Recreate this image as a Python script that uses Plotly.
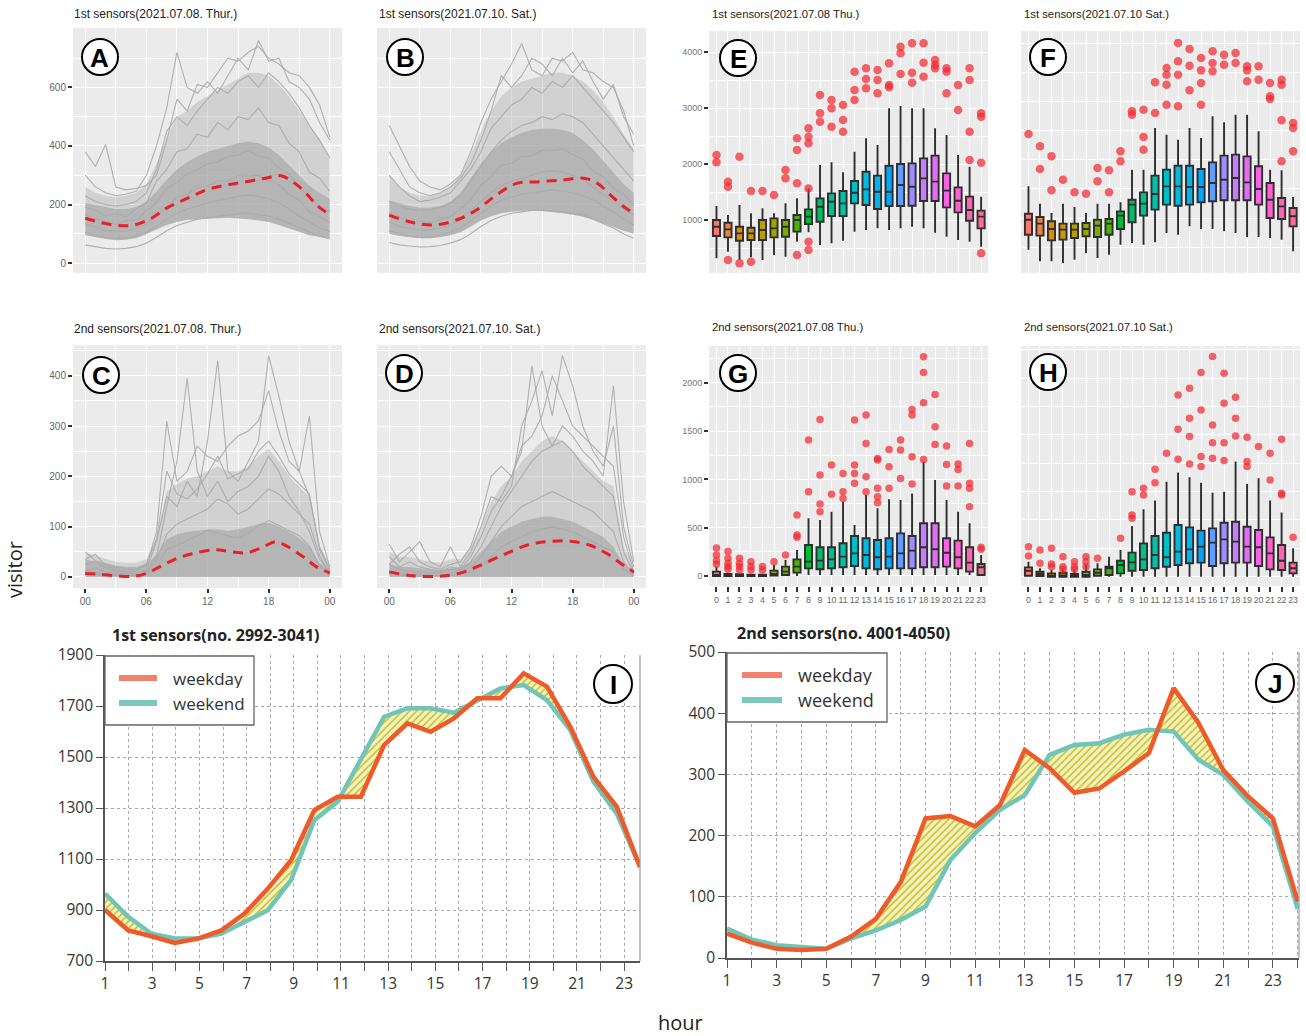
import math
import plotly.graph_objects as go

FIG_W, FIG_H = 1306, 1036

# ---------------- DATA ----------------
HOURS = list(range(25))          # spaghetti panels, hour of day
BOX_HOURS = list(range(24))      # box panels

# Panel A : 1st sensors Thu
A_band_low = [95, 88, 82, 78, 80, 85, 98, 115, 130, 140, 148, 150, 152, 155, 155, 152, 150, 145, 140, 130, 118, 105, 95, 90, 85]
A_band_high = [205, 198, 190, 185, 185, 192, 210, 245, 285, 320, 345, 365, 380, 390, 400, 410, 415, 410, 395, 370, 335, 300, 265, 240, 220]
A_cloud_high = [260, 240, 230, 225, 230, 240, 270, 340, 430, 500, 520, 550, 570, 590, 610, 630, 650, 650, 640, 610, 570, 520, 470, 420, 360]
A_lines = [
    [380, 330, 405, 260, 250, 255, 265, 300, 420, 560, 520, 610, 600, 650, 700, 690, 720, 740, 700, 680, 650, 640, 600, 540, 430],
    [300, 260, 240, 230, 235, 245, 300, 400, 530, 720, 600, 580, 620, 580, 640, 700, 660, 760, 690, 700, 620, 600, 560, 480, 420],
    [230, 210, 200, 195, 200, 210, 240, 320, 450, 500, 470, 520, 560, 600, 580, 620, 640, 600, 650, 620, 580, 530, 470, 420, 360],
    [190, 182, 160, 170, 158, 185, 205, 280, 320, 380, 390, 440, 430, 480, 455, 500, 490, 530, 480, 470, 410, 380, 310, 290, 245],
    [165, 150, 142, 132, 145, 148, 178, 205, 255, 275, 305, 318, 340, 345, 365, 368, 385, 365, 360, 325, 305, 255, 230, 190, 178],
    [135, 122, 110, 110, 108, 120, 132, 168, 190, 225, 236, 258, 262, 280, 282, 298, 296, 300, 280, 268, 236, 214, 176, 158, 138],
    [105, 95, 88, 84, 86, 92, 105, 125, 150, 170, 185, 195, 205, 212, 220, 228, 232, 228, 220, 205, 185, 160, 140, 120, 108],
    [62, 55, 50, 48, 50, 56, 68, 88, 110, 128, 140, 150, 155, 160, 165, 168, 170, 166, 160, 150, 135, 120, 105, 92, 82],
]
A_trend_h = [0, 1.6, 3.2, 4.8, 6.5, 8.1, 10, 11.9, 13.9, 15.8, 17.7, 19.2, 21, 22.9, 24]
A_trend = [153, 138, 128, 130, 153, 190, 221, 250, 267, 278, 290, 298, 261, 193, 165]

# Panel B : 1st sensors Sat
B_band_low = [100, 92, 88, 85, 85, 88, 95, 105, 125, 145, 160, 170, 175, 178, 180, 178, 175, 170, 165, 158, 148, 135, 122, 110, 100]
B_band_high = [215, 205, 195, 190, 190, 195, 210, 240, 290, 340, 380, 410, 430, 445, 455, 460, 460, 455, 445, 420, 390, 350, 310, 270, 240]
B_cloud_high = [300, 260, 240, 230, 230, 240, 260, 300, 370, 450, 520, 570, 600, 620, 630, 640, 650, 650, 640, 620, 590, 550, 500, 440, 390]
B_lines = [
    [470, 400, 330, 280, 260, 250, 270, 300, 380, 480, 560, 620, 680, 750, 660, 640, 700, 690, 720, 660, 650, 620, 600, 520, 400],
    [380, 320, 260, 240, 230, 240, 260, 290, 340, 420, 520, 640, 600, 640, 700, 680, 640, 700, 650, 690, 620, 560, 610, 500, 440],
    [300, 260, 230, 210, 215, 225, 240, 280, 320, 380, 460, 500, 540, 560, 600, 580, 620, 600, 640, 600, 560, 520, 480, 430, 380],
    [210, 195, 185, 180, 182, 190, 205, 230, 280, 330, 380, 420, 450, 470, 480, 500, 490, 510, 500, 480, 440, 400, 360, 320, 280],
    [170, 158, 142, 143, 138, 150, 158, 188, 215, 265, 295, 335, 340, 365, 365, 385, 385, 390, 370, 355, 315, 295, 255, 235, 198],
    [140, 125, 118, 112, 115, 120, 130, 150, 180, 210, 240, 265, 280, 290, 300, 310, 315, 310, 300, 285, 260, 235, 210, 185, 165],
    [110, 100, 92, 88, 90, 95, 105, 120, 145, 170, 195, 215, 225, 235, 240, 245, 250, 245, 240, 230, 215, 195, 175, 150, 130],
    [70, 62, 58, 55, 56, 60, 68, 80, 100, 125, 145, 160, 170, 175, 180, 180, 178, 175, 170, 165, 150, 135, 120, 100, 85],
]
B_trend_h = [0, 2, 4.3, 6.6, 8.6, 10.5, 12.5, 14.8, 17.1, 19.1, 20.4, 21.7, 23, 24]
B_trend = [164, 141, 130, 147, 182, 232, 272, 278, 284, 290, 273, 233, 193, 170]

# Panel C : 2nd sensors Thu
C_band_low = [0] * 25
C_band_high = [35, 30, 26, 22, 20, 20, 25, 45, 75, 85, 90, 92, 95, 95, 92, 95, 100, 105, 108, 100, 90, 78, 60, 28, 15]
C_cloud_high = [48, 42, 36, 30, 28, 28, 35, 80, 170, 185, 195, 200, 210, 220, 210, 210, 220, 240, 255, 230, 200, 180, 160, 60, 25]
C_lines = [
    [12, 18, 10, 8, 6, 5, 12, 40, 140, 230, 395, 210, 160, 190, 150, 170, 180, 200, 240, 210, 160, 130, 90, 35, 10],
    [25, 30, 18, 12, 8, 6, 15, 70, 160, 140, 190, 160, 270, 430, 210, 190, 230, 270, 440, 360, 270, 210, 160, 60, 15],
    [35, 45, 22, 15, 10, 12, 22, 90, 310, 190, 210, 260, 240, 230, 260, 280, 290, 310, 370, 290, 230, 210, 320, 90, 20],
    [50, 32, 26, 20, 16, 15, 26, 75, 210, 165, 155, 175, 205, 240, 195, 205, 215, 250, 270, 240, 205, 185, 165, 55, 12],
    [12, 9, 6, 5, 3, 3, 10, 32, 85, 105, 115, 125, 135, 155, 145, 125, 135, 155, 175, 165, 145, 125, 105, 42, 6],
    [6, 5, 3, 2, 2, 2, 5, 22, 55, 62, 72, 82, 92, 88, 82, 78, 88, 102, 112, 102, 92, 82, 62, 22, 3],
]
C_trend_h = [0, 1.5, 3.1, 4.7, 6, 7.3, 8.9, 10.5, 12.7, 14.3, 15.9, 17.5, 18.7, 19.8, 21.4, 22.7, 24]
C_trend = [7, 5, 2, 1, 7, 20, 36, 46, 54, 50, 48, 60, 70, 61, 40, 20, 8]

# Panel D : 2nd sensors Sat
D_band_low = [0] * 25
D_band_high = [25, 20, 20, 18, 15, 15, 18, 20, 30, 50, 70, 90, 100, 110, 115, 120, 120, 115, 110, 100, 90, 80, 60, 25, 15]
D_cloud_high = [50, 40, 40, 35, 30, 28, 35, 35, 60, 100, 150, 180, 200, 230, 250, 270, 280, 270, 250, 230, 210, 190, 180, 60, 25]
D_lines = [
    [25, 45, 60, 30, 20, 15, 25, 30, 60, 120, 200, 220, 200, 250, 420, 300, 260, 300, 280, 250, 230, 200, 380, 150, 30],
    [65, 30, 50, 70, 30, 20, 60, 20, 50, 100, 160, 150, 180, 300, 350, 410, 320, 440, 380, 300, 250, 220, 300, 100, 20],
    [40, 20, 30, 20, 15, 10, 20, 15, 40, 80, 130, 160, 200, 260, 280, 320, 400, 350, 300, 280, 260, 240, 220, 80, 10],
    [25, 15, 10, 10, 8, 8, 15, 12, 30, 60, 100, 140, 170, 200, 230, 250, 260, 270, 250, 220, 200, 180, 160, 50, 8],
    [10, 8, 5, 5, 3, 3, 8, 8, 20, 40, 70, 100, 120, 140, 150, 160, 170, 160, 150, 140, 130, 110, 90, 30, 5],
    [5, 3, 2, 2, 2, 2, 3, 5, 10, 20, 40, 60, 70, 80, 90, 95, 100, 95, 90, 80, 70, 60, 50, 15, 3],
]
D_trend_h = [0, 2, 4.7, 6.9, 8.9, 11.2, 13.5, 15.5, 17.8, 19.7, 21.4, 23, 24]
D_trend = [10, 3, 1, 7, 23, 44, 63, 70, 71, 63, 46, 23, 10]

# Panel E : box plot 1st sensors Thu
E_hi = [1250, 1089, 1268, 1119, 1208, 1119, 1298, 1387, 1565, 1982, 2030, 1851, 2220, 2458, 2339, 2994, 3036, 2994, 2994, 2637, 2518, 2161, 1952, 1417]
E_q3 = [1000, 952, 881, 863, 1000, 1030, 1000, 1089, 1190, 1387, 1476, 1518, 1696, 1863, 1792, 1970, 2000, 2012, 2101, 2149, 1833, 1583, 1417, 1167]
E_med = [881, 833, 762, 762, 821, 851, 881, 1000, 1060, 1238, 1327, 1298, 1488, 1548, 1506, 1506, 1625, 1595, 1744, 1685, 1524, 1345, 1179, 1060]
E_q1 = [714, 690, 631, 643, 643, 690, 702, 792, 929, 970, 1071, 1071, 1298, 1268, 1196, 1250, 1250, 1256, 1339, 1339, 1226, 1137, 988, 851]
E_lo = [316, 435, 286, 333, 286, 375, 345, 613, 780, 554, 583, 631, 792, 821, 851, 821, 851, 881, 851, 774, 702, 643, 613, 524]
E_out = [[2160, 2030], [1685, 1595, 286], [2131, 226], [1518, 256], [1518], [1446], [1893, 1744],
         [2458, 2250, 1655, 375], [2637, 2488, 2369, 1565, 613, 464], [3232, 2905, 2756], [3143, 2994, 2667],
         [3054, 2786, 2577], [3649, 3321, 3143], [3708, 3518, 3351], [3678, 3500, 3262], [3797, 3411, 3369],
         [4095, 3976, 3607], [4155, 3631, 3452], [4155, 3810, 3560], [3857, 3768, 3708], [3708, 3649, 3262],
         [3411, 2964], [3708, 3500, 2577, 2071], [2905, 2845, 2024, 405]]

# Panel F : box plot 1st sensors Sat
F_hi = [1543, 1246, 1086, 1246, 1189, 1086, 1246, 1246, 1269, 1829, 1829, 2543, 2429, 2343, 2543, 2371, 2743, 2640, 2771, 2771, 2486, 1829, 1817, 1360]
F_q3 = [1074, 1017, 943, 903, 903, 914, 971, 983, 1114, 1314, 1440, 1726, 1829, 1897, 1897, 1840, 1954, 2069, 2086, 2057, 1886, 1600, 1343, 1171]
F_med = [971, 903, 811, 800, 800, 811, 869, 903, 1040, 1229, 1246, 1411, 1543, 1543, 1531, 1531, 1600, 1657, 1686, 1611, 1497, 1314, 1200, 1029]
F_q1 = [714, 697, 617, 629, 657, 686, 674, 714, 811, 926, 1040, 1143, 1229, 1211, 1229, 1269, 1286, 1303, 1303, 1303, 1229, 1000, 983, 857]
F_lo = [457, 257, 257, 229, 286, 400, 314, 371, 543, 571, 543, 583, 743, 714, 857, 811, 811, 771, 743, 674, 674, 657, 629, 429]
F_out = [[2440], [2229, 1840], [2057, 1474], [1657], [1440], [1417], [1857, 1629], [1817, 1440], [2143, 1971],
         [2829, 2771], [2857, 2389, 2171], [3326, 2800], [3571, 3457, 3286, 2943], [4000, 3686, 3457, 2914],
         [3897, 3611, 3189], [3743, 3531, 3314, 2943], [3857, 3657, 3514], [3800, 3629], [3829, 3657],
         [3600, 3531, 3343], [3600, 3371], [3314, 3086, 3040], [3371, 3286, 2674, 1971], [2629, 2543, 2143]]

# Panel G : box plot 2nd sensors Thu
G_hi = [97, 28, 28, 20, 20, 114, 166, 269, 597, 579, 665, 769, 528, 838, 700, 793, 786, 855, 1183, 993, 786, 665, 545, 217]
G_q3 = [45, 20, 17, 14, 12, 55, 97, 172, 321, 297, 297, 338, 414, 390, 372, 390, 441, 414, 545, 545, 390, 366, 297, 124]
G_med = [10, 7, 5, 4, 4, 20, 45, 97, 148, 159, 172, 200, 234, 217, 193, 200, 234, 262, 297, 276, 241, 193, 138, 90]
G_q1 = [0, 0, 0, 0, 0, 3, 10, 34, 79, 69, 79, 90, 103, 79, 69, 79, 79, 79, 90, 90, 97, 79, 45, 10]
G_lo = [0, 0, 0, 0, 0, 0, 0, 0, 10, 10, 10, 10, 10, 10, 10, 10, 10, 10, 10, 10, 10, 10, 10, 0]
G_out = [[290, 217, 160, 120], [252, 183, 131, 97, 69], [183, 131, 97, 62], [148, 97, 62], [97, 62], [148], [217],
         [631, 424, 400], [1407, 872], [1620, 1045, 745, 665], [1148, 845], [1062, 872, 803],
         [1614, 1148, 1062, 959], [1666, 1372, 1028, 872], [1217, 1200, 907, 821, 759], [1310, 1131, 907],
         [1407, 1303, 1010], [1724, 1666, 1234, 952], [2269, 2107, 1793, 1207], [1879, 1545, 1362],
         [1345, 1155, 931], [1159, 1103, 931], [1372, 959, 907, 717], [297, 276]]

# Panel H : box plot 2nd sensors Sat
H_hi = [132, 74, 59, 74, 59, 103, 118, 176, 235, 447, 594, 671, 838, 918, 876, 829, 741, 750, 1015, 818, 868, 671, 565, 250]
H_q3 = [82, 44, 29, 35, 24, 44, 65, 88, 141, 212, 294, 359, 388, 456, 435, 406, 426, 476, 485, 441, 412, 347, 279, 124]
H_med = [53, 24, 9, 12, 9, 15, 35, 74, 103, 126, 153, 191, 171, 221, 241, 265, 300, 329, 309, 265, 259, 206, 141, 74]
H_q1 = [9, 6, 0, 0, 0, 0, 9, 15, 29, 53, 59, 74, 88, 103, 118, 124, 94, 118, 124, 124, 94, 65, 59, 29]
H_lo = [0] * 24
H_out = [[265, 182], [235, 118], [250, 112, 88], [176, 88, 65], [132, 88, 65], [176, 132, 88], [162], [],
         [338], [750, 544, 515], [779, 721], [947, 829], [1088], [1603, 1300, 1035], [1662, 1397, 1235, 994],
         [1800, 1470, 1059, 971], [1941, 1338, 1182, 1044], [1794, 1529, 1182, 1024], [1582, 1397, 1241],
         [1229, 1015, 971], [1147], [1088, 853], [1212, 735, 721], [347]]

# Panel I / J : hourly means
LINE_HOURS = list(range(1, 25))
I_weekday = [900, 820, 797, 771, 788, 820, 886, 984, 1095, 1292, 1344, 1344, 1547, 1632, 1599, 1651, 1730, 1730, 1828, 1776, 1619, 1422, 1305, 1069]
I_weekend = [964, 873, 807, 788, 788, 807, 853, 899, 1017, 1252, 1324, 1488, 1658, 1691, 1691, 1674, 1723, 1769, 1782, 1723, 1606, 1403, 1278, 1069]
J_weekday = [40, 25, 15, 13, 15, 35, 64, 124, 228, 232, 215, 250, 340, 310, 270, 277, 305, 335, 441, 384, 307, 264, 228, 92]
J_weekend = [48, 30, 21, 18, 15, 32, 45, 62, 84, 160, 204, 242, 266, 332, 348, 351, 365, 373, 370, 324, 299, 255, 215, 80]
TICK_LABELS = list(range(1, 24))

# ---------------- HELPERS ----------------
def fx(px):
    return px / FIG_W

def fy(py):
    return 1 - py / FIG_H

def hue_palette(n, c=100.0, l=65.0, h0=15.0):
    Xn, Yn, Zn = 95.047, 100.0, 108.883
    den = Xn + 15 * Yn + 3 * Zn
    un, vn = 4 * Xn / den, 9 * Yn / den
    out = []
    for i in range(n):
        h = math.radians(h0 + 360.0 * i / n)
        u, v = c * math.cos(h), c * math.sin(h)
        Y = Yn * ((l + 16) / 116) ** 3
        up, vp = u / (13 * l) + un, v / (13 * l) + vn
        X = Y * 9 * up / (4 * vp)
        Z = Y * (12 - 3 * up - 20 * vp) / (4 * vp)
        x, y, z = X / 100, Y / 100, Z / 100
        rgb = (3.2406 * x - 1.5372 * y - 0.4986 * z,
               -0.9689 * x + 1.8758 * y + 0.0415 * z,
               0.0557 * x - 0.2040 * y + 1.0570 * z)
        def gam(t):
            t = max(0.0, min(1.0, t))
            return 12.92 * t if t <= 0.0031308 else 1.055 * t ** (1 / 2.4) - 0.055
        out.append('#%02x%02x%02x' % tuple(int(round(gam(t) * 255)) for t in rgb))
    return out

PALETTE = hue_palette(24)
GG_FONT = "Liberation Sans"
NARROW = "Liberation Sans Narrow, Liberation Sans"
IJ_FONT = "Open Sans"

def gg_axis(domain, rng, major, minor, labels, anchor, ticktext=None, font=GG_FONT, size=11, ticklen=4,
            color='#4d4d4d'):
    d = dict(domain=domain, range=rng, tickmode='array', tickvals=major, showgrid=True,
             gridcolor='white', gridwidth=1.3, zeroline=False, showline=False, anchor=anchor,
             automargin=False, fixedrange=True, tickangle=0,
             minor=dict(tickmode='array', tickvals=minor, showgrid=True, gridcolor='white',
                        gridwidth=0.6, ticks=''))
    if labels:
        d.update(showticklabels=True, ticks='outside', ticklen=ticklen, tickwidth=1.5,
                 tickcolor='#333333', tickfont=dict(family=font, size=size, color=color))
        if ticktext is not None:
            d['ticktext'] = ticktext
    else:
        d.update(showticklabels=False, ticks='')
    return d

fig = go.Figure()
layout = dict(width=FIG_W, height=FIG_H, margin=dict(l=0, r=0, t=0, b=0),
              paper_bgcolor='white', plot_bgcolor='white', template='none',
              showlegend=False, boxmode='overlay')
shapes, annos = [], []

# ---------------- SPAGHETTI PANELS A-D ----------------
spag = [
    (1, (73, 342), (28, 273), [-34, 803], [0, 200, 400, 600], [100, 300, 500, 700], False, True,
     A_band_low, A_band_high, A_cloud_high, A_lines, A_trend_h, A_trend),
    (2, (377, 646), (28, 273), [-34, 803], [0, 200, 400, 600], [100, 300, 500, 700], False, False,
     B_band_low, B_band_high, B_cloud_high, B_lines, B_trend_h, B_trend),
    (3, (73, 342), (345, 588), [-22, 461], [0, 100, 200, 300, 400], [50, 150, 250, 350, 450], True, True,
     C_band_low, C_band_high, C_cloud_high, C_lines, C_trend_h, C_trend),
    (4, (377, 646), (345, 588), [-22, 461], [0, 100, 200, 300, 400], [50, 150, 250, 350, 450], True, False,
     D_band_low, D_band_high, D_cloud_high, D_lines, D_trend_h, D_trend),
]
NOLINE = dict(width=0, color='rgba(0,0,0,0)')
for n, xp, yp, yr, ymaj, ymin, xl, yl, blow, bhigh, chigh, lines, th, tv in spag:
    xa, ya = ('x%d' % n if n > 1 else 'x'), ('y%d' % n if n > 1 else 'y')
    key = '' if n == 1 else str(n)
    layout['xaxis' + key] = gg_axis([fx(xp[0]), fx(xp[1])], [-1.2, 25.2], [0, 6, 12, 18, 24], [3, 9, 15, 21],
                                    xl, ya, ticktext=['00', '06', '12', '18', '00'], size=10, color='#666666')
    layout['yaxis' + key] = gg_axis([fy(yp[1]), fy(yp[0])], yr, ymaj, ymin, yl, xa, size=10, color='#666666')
    shapes.append(dict(type='rect', xref='%s domain' % xa, yref='%s domain' % ya, x0=0, x1=1, y0=0, y1=1,
                       fillcolor='#EBEBEB', line=dict(width=0), layer='below'))
    # faint cloud of the upper lines
    fig.add_trace(go.Scatter(x=HOURS, y=bhigh, mode='lines', line=NOLINE, xaxis=xa, yaxis=ya, hoverinfo='skip'))
    fig.add_trace(go.Scatter(x=HOURS, y=chigh, mode='lines', line=NOLINE, fill='tonexty',
                             fillcolor='rgba(178,178,178,0.45)', xaxis=xa, yaxis=ya, hoverinfo='skip'))
    # dense band
    fig.add_trace(go.Scatter(x=HOURS, y=blow, mode='lines', line=NOLINE, xaxis=xa, yaxis=ya, hoverinfo='skip'))
    fig.add_trace(go.Scatter(x=HOURS, y=bhigh, mode='lines', line=NOLINE, fill='tonexty',
                             fillcolor='rgba(168,168,168,0.8)', xaxis=xa, yaxis=ya, hoverinfo='skip'))
    for ln in lines:
        fig.add_trace(go.Scatter(x=HOURS, y=ln, mode='lines', line=dict(width=1.1, color='rgba(170,170,170,0.9)'),
                                 xaxis=xa, yaxis=ya, hoverinfo='skip'))
    fig.add_trace(go.Scatter(x=th, y=tv, mode='lines', line=dict(width=3, color='#E8202A', dash='10px,7px', shape='spline'),
                             xaxis=xa, yaxis=ya))

# ---------------- BOX PANELS E-H ----------------
boxes = [
    (5, (709, 988), (31, 273), [54, 4375], [1000, 2000, 3000, 4000], [500, 1500, 2500, 3500], False, True,
     E_lo, E_q1, E_med, E_q3, E_hi, E_out),
    (6, (1021, 1300), (31, 273), [57, 4206], [1000, 2000, 3000, 4000], [500, 1500, 2500, 3500], False, False,
     F_lo, F_q1, F_med, F_q3, F_hi, F_out),
    (7, (709, 988), (346, 586), [-104, 2381], [0, 500, 1000, 1500, 2000], [250, 750, 1250, 1750, 2250], True, True,
     G_lo, G_q1, G_med, G_q3, G_hi, G_out),
    (8, (1021, 1300), (346, 586), [-82, 2034], [0, 500, 1000, 1500, 2000], [250, 750, 1250, 1750], True, False,
     H_lo, H_q1, H_med, H_q3, H_hi, H_out),
]
for n, xp, yp, yr, ymaj, ymin, xl, yl, lo, q1, med, q3, hi, outs in boxes:
    xa, ya = 'x%d' % n, 'y%d' % n
    layout['xaxis%d' % n] = gg_axis([fx(xp[0]), fx(xp[1])], [-0.65, 23.6], BOX_HOURS, [], xl, ya,
                                    ticktext=[str(h) for h in BOX_HOURS], font=NARROW, size=8.8, ticklen=5,
                                    color='#666666')
    layout['yaxis%d' % n] = gg_axis([fy(yp[1]), fy(yp[0])], yr, ymaj, ymin, yl, xa, font=NARROW, size=9,
                                    color='#777777')
    shapes.append(dict(type='rect', xref='%s domain' % xa, yref='%s domain' % ya, x0=0, x1=1, y0=0, y1=1,
                       fillcolor='#EBEBEB', line=dict(width=0), layer='below'))
    for h in BOX_HOURS:
        fig.add_trace(go.Box(x=[h], q1=[q1[h]], median=[med[h]], q3=[q3[h]], lowerfence=[lo[h]],
                             upperfence=[hi[h]], fillcolor=PALETTE[h], line=dict(color='#2e2e2e', width=1.9),
                             width=0.62, whiskerwidth=0, boxpoints=False, xaxis=xa, yaxis=ya))
    ox = [h for h in BOX_HOURS for _ in outs[h]]
    oy = [v for h in BOX_HOURS for v in outs[h]]
    fig.add_trace(go.Scatter(x=ox, y=oy, mode='markers', xaxis=xa, yaxis=ya,
                             marker=dict(size=8.5 if n < 7 else 7.5, color='rgba(242,40,48,0.72)', line=dict(width=0))))

# ---------------- LINE PANELS I, J ----------------
def ij_xaxis(domain, rng, tickvals, ticktext, anchor):
    return dict(domain=domain, range=rng, tickmode='array', tickvals=tickvals, ticktext=ticktext,
                showgrid=True, gridcolor='#A8A8A8', griddash='dot', gridwidth=1, zeroline=False,
                showline=True, linecolor='#555555', linewidth=1.6, ticks='outside', ticklen=8,
                tickwidth=1.4, tickcolor='#555555', anchor=anchor, automargin=False, fixedrange=True,
                tickangle=0, tickfont=dict(family=IJ_FONT, size=15.5, color='#333333'))

def ij_yaxis(domain, rng, tickvals, anchor):
    return dict(domain=domain, range=rng, tickmode='array', tickvals=tickvals,
                showgrid=True, gridcolor='#A8A8A8', griddash='dot', gridwidth=1, zeroline=False,
                showline=True, linecolor='#555555', linewidth=1.6, ticks='outside', ticklen=7,
                tickwidth=1.4, tickcolor='#555555', anchor=anchor, automargin=False, fixedrange=True,
                tickfont=dict(family=IJ_FONT, size=15.5, color='#333333'))

# panel I's tick marks are spaced slightly wider than its data points (23 labels over 22.67 data steps)
I_TICK_STRETCH = 23.0 / 22.67
I_tickvals = [1 + (k - 1) * I_TICK_STRETCH for k in TICK_LABELS]
odd_text = [str(k) if k % 2 == 1 else '' for k in TICK_LABELS]

layout['xaxis9'] = ij_xaxis([fx(105), fx(640)], [1, 24], I_tickvals, odd_text, 'y9')
layout['yaxis9'] = ij_yaxis([fy(961), fy(655)], [700, 1900], [700, 900, 1100, 1300, 1500, 1700, 1900], 'x9')
layout['xaxis10'] = ij_xaxis([fx(727), fx(1299)], [1, 24.05], TICK_LABELS + [24], odd_text + [''], 'y10')
layout['yaxis10'] = ij_yaxis([fy(958), fy(652)], [0, 500], [0, 100, 200, 300, 400, 500], 'x10')

WD_COLOR, WE_COLOR = '#EF5A2A', '#70C4B8'
for xa, ya, wd, we in (('x9', 'y9', I_weekday, I_weekend), ('x10', 'y10', J_weekday, J_weekend)):
    fig.add_trace(go.Scatter(x=LINE_HOURS, y=wd, mode='lines', line=NOLINE, xaxis=xa, yaxis=ya, hoverinfo='skip'))
    fig.add_trace(go.Scatter(x=LINE_HOURS, y=we, mode='lines', line=NOLINE,
                             fill='tonexty', fillcolor='#F2F0B4',
                             fillpattern=dict(shape='/', fgcolor='#C8BE2C', bgcolor='#F4F2BE', size=5, solidity=0.3),
                             xaxis=xa, yaxis=ya, hoverinfo='skip'))
    fig.add_trace(go.Scatter(x=LINE_HOURS, y=we, mode='lines', line=dict(width=4.5, color=WE_COLOR),
                             xaxis=xa, yaxis=ya))
    fig.add_trace(go.Scatter(x=LINE_HOURS, y=wd, mode='lines', line=dict(width=4.5, color=WD_COLOR),
                             xaxis=xa, yaxis=ya))

# right borders of I and J
for x, y0, y1 in ((640, 961, 655), (1299, 958, 652)):
    shapes.append(dict(type='line', xref='paper', yref='paper', x0=fx(x), x1=fx(x), y0=fy(y0), y1=fy(y1),
                       line=dict(color='#9a9a9a', width=1.2)))

# legends for I and J (drawn)
for (bx0, by0, bx1, by1, lx0, lx1, tx, ty1, ty2, fs) in ((105, 656, 254, 725, 119, 157, 171, 678, 703, 17),
                                                           (727, 653, 887, 722, 742, 782, 796, 675, 700, 18)):
    shapes.append(dict(type='rect', xref='paper', yref='paper', x0=fx(bx0), x1=fx(bx1), y0=fy(by1), y1=fy(by0),
                       fillcolor='white', line=dict(color='#666666', width=1.3)))
    for ty, col in ((ty1, '#F4806E'), (ty2, '#7CC7BE')):
        shapes.append(dict(type='line', xref='paper', yref='paper', x0=fx(lx0), x1=fx(lx1), y0=fy(ty), y1=fy(ty),
                           line=dict(color=col, width=6)))
    for ty, txt in ((ty1, 'weekday'), (ty2, 'weekend')):
        annos.append(dict(text=txt, x=fx(tx), y=fy(ty), xref='paper', yref='paper', xanchor='left',
                          yanchor='middle', showarrow=False, height=20,
                          font=dict(family=IJ_FONT, size=fs, color='#333333')))

# ---------------- TITLES ----------------
titles = [
    ("1st sensors(2021.07.08. Thur.)", 72, 14, GG_FONT, 12),
    ("1st sensors(2021.07.10. Sat.)", 377, 14, GG_FONT, 12),
    ("2nd sensors(2021.07.08. Thur.)", 72, 329, GG_FONT, 12),
    ("2nd sensors(2021.07.10. Sat.)", 377, 329, GG_FONT, 12),
    ("1st sensors(2021.07.08 Thu.)", 710, 14, NARROW, 11.3),
    ("1st sensors(2021.07.10 Sat.)", 1022, 14, NARROW, 11.3),
    ("2nd sensors(2021.07.08 Thu.)", 710, 327, NARROW, 11.3),
    ("2nd sensors(2021.07.10 Sat.)", 1022, 327, NARROW, 11.3),
    ("<b>1st sensors(no. 2992-3041)</b>", 110, 635, IJ_FONT, 16),
    ("<b>2nd sensors(no. 4001-4050)</b>", 735, 633, IJ_FONT, 16),
]
for t, x, y, fam, sz in titles:
    annos.append(dict(text=t, x=fx(x), y=fy(y), xref='paper', yref='paper', xanchor='left', yanchor='middle',
                      showarrow=False, font=dict(family=fam, size=sz, color='#222222')))

# circled panel letters
letters = [('A', 100, 57, 18), ('B', 405, 57, 18), ('C', 101, 375, 18), ('D', 404, 373, 18),
           ('E', 738, 58, 18), ('F', 1048, 57, 18), ('G', 738, 373, 18), ('H', 1048, 372, 18),
           ('I', 613, 684, 19), ('J', 1275, 683, 19)]
for L, cx, cy, r in letters:
    shapes.append(dict(type='circle', xref='paper', yref='paper', x0=fx(cx - r), x1=fx(cx + r),
                       y0=fy(cy + r), y1=fy(cy - r), fillcolor='white', line=dict(color='black', width=2)))
    annos.append(dict(text='<b>%s</b>' % L, x=fx(cx), y=fy(cy + 1), xref='paper', yref='paper',
                      xanchor='center', yanchor='middle', showarrow=False,
                      font=dict(family=GG_FONT, size=26, color='black')))

# axis titles
annos.append(dict(text='visitor', x=fx(14), y=fy(570), xref='paper', yref='paper', textangle=-90,
                  xanchor='center', yanchor='middle', showarrow=False,
                  font=dict(family=IJ_FONT, size=20, color='#222222')))
annos.append(dict(text='hour', x=fx(680), y=fy(1022), xref='paper', yref='paper',
                  xanchor='center', yanchor='middle', showarrow=False,
                  font=dict(family=IJ_FONT, size=20, color='#222222')))

layout['shapes'] = shapes
layout['annotations'] = annos
fig.update_layout(**layout)
fig.write_html("out.html")
